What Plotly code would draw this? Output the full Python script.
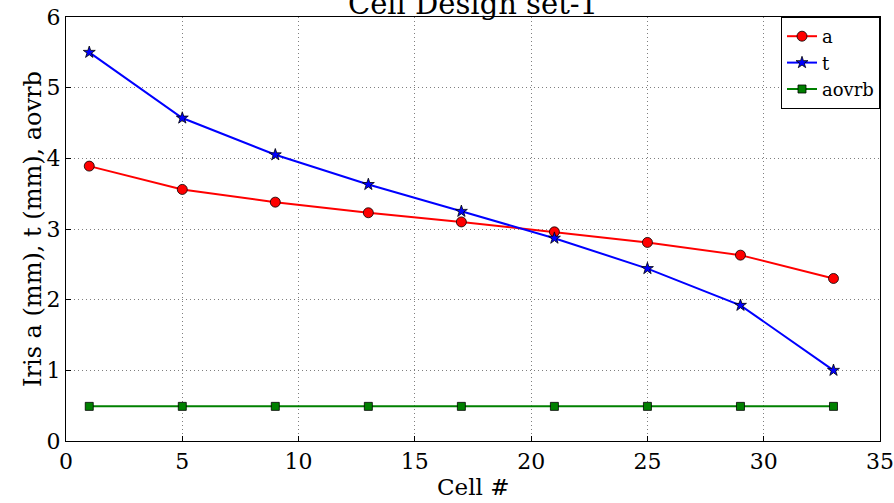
import plotly.graph_objects as go

cells = [1, 5, 9, 13, 17, 21, 25, 29, 33]
a_vals = [3.89, 3.56, 3.38, 3.23, 3.10, 2.96, 2.81, 2.63, 2.30]
t_vals = [5.50, 4.57, 4.05, 3.63, 3.25, 2.87, 2.44, 1.92, 1.00]
aovrb_vals = [0.49, 0.49, 0.49, 0.49, 0.49, 0.49, 0.49, 0.49, 0.49]

FONT = "DejaVu Serif"

fig = go.Figure()
fig.add_trace(go.Scatter(x=cells, y=a_vals, name="a", mode="lines+markers",
                         line=dict(color="#ff0000", width=2),
                         marker=dict(symbol="circle", size=10, color="#ff0000",
                                     line=dict(color="black", width=0.8))))
fig.add_trace(go.Scatter(x=cells, y=t_vals, name="t", mode="lines+markers",
                         line=dict(color="#0000ff", width=2),
                         marker=dict(symbol="star", size=9, color="#0000ff",
                                     line=dict(color="black", width=0.8))))
fig.add_trace(go.Scatter(x=cells, y=aovrb_vals, name="aovrb", mode="lines+markers",
                         line=dict(color="#008000", width=2),
                         marker=dict(symbol="square", size=8, color="#008000",
                                     line=dict(color="black", width=0.8))))

axis_common = dict(showline=True, linecolor="black", linewidth=1.2, mirror=True,
                   showgrid=True, gridcolor="rgba(0,0,0,0.5)", griddash="1px,3px", gridwidth=1,
                   zeroline=False, ticks="inside", ticklen=5, tickcolor="black", automargin=False,
                   tickfont=dict(family=FONT, size=22, color="black"))

fig.update_xaxes(range=[0, 35], dtick=5, **axis_common)
fig.update_yaxes(range=[0, 6], dtick=1, **axis_common)

fig.add_annotation(text="Cell #", xref="paper", yref="paper", x=0.5, y=-46/424,
                   xanchor="center", yanchor="middle", showarrow=False,
                   font=dict(family=FONT, size=23, color="black"))
fig.add_annotation(text="Iris a (mm), t (mm), aovrb", xref="paper", yref="paper",
                   x=-33/814, y=0.5, xanchor="center", yanchor="middle", textangle=-90,
                   showarrow=False, font=dict(family=FONT, size=24, color="black"))

fig.update_layout(
    width=894, height=503,
    margin=dict(l=66, r=14, t=17, b=62),
    paper_bgcolor="white", plot_bgcolor="white",
    title=dict(text="Cell Design set-1", xref="paper", x=0.5, xanchor="center", y=0.993, yanchor="middle",
               yref="container", font=dict(family=FONT, size=29, color="black")),
    legend=dict(x=1.0, y=1.0, xanchor="right", yanchor="top", bgcolor="white",
                bordercolor="black", borderwidth=1,
                font=dict(family=FONT, size=18, color="black"),
                tracegroupgap=0, itemwidth=30),
    showlegend=True,
)

fig.write_html("out.html")
